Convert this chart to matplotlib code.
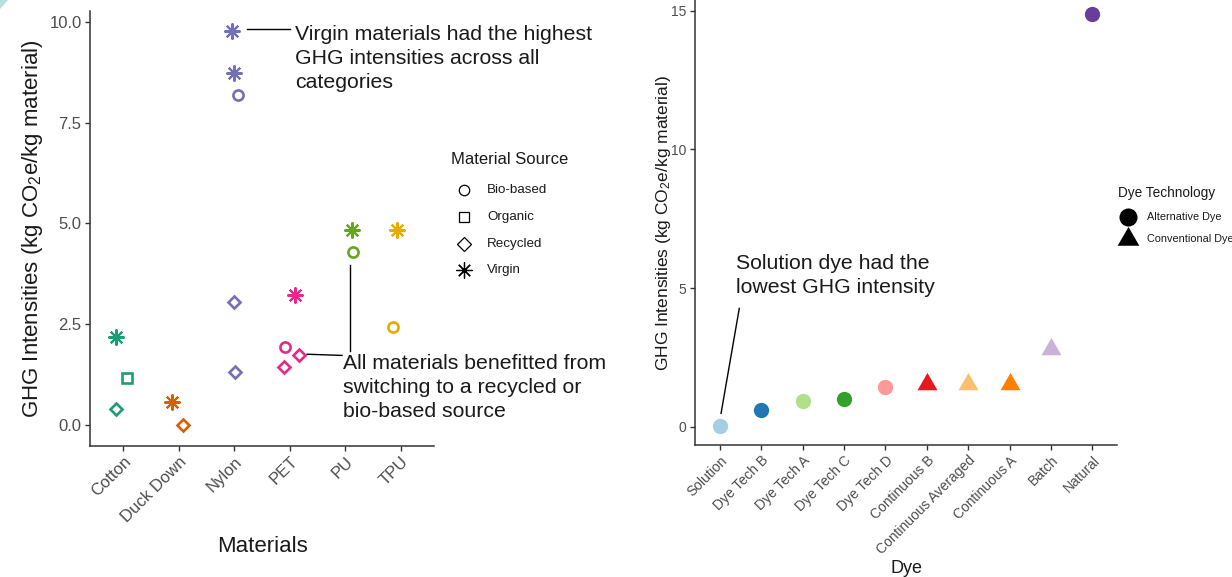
import matplotlib
matplotlib.use("Agg")
import matplotlib.pyplot as plt
from matplotlib.path import Path
from matplotlib.patches import Polygon

plt.rcParams["font.family"] = ["Liberation Sans", "DejaVu Sans"]
plt.rcParams["mathtext.default"] = "regular"

# --- materials panel data ---
materials = ["Cotton", "Duck Down", "Nylon", "PET", "PU", "TPU"]
material_colors = ["#1B9E77", "#D95F02", "#7570B3", "#E7298A", "#66A61E", "#E6AB02"]
sources = ["Bio-based", "Organic", "Recycled", "Virgin"]

pt_material = ["Cotton", "Cotton", "Cotton", "Duck Down", "Duck Down",
               "Nylon", "Nylon", "Nylon", "Nylon", "Nylon",
               "PET", "PET", "PET", "PET", "PU", "PU", "TPU", "TPU"]
pt_source = ["Virgin", "Organic", "Recycled", "Virgin", "Recycled",
             "Virgin", "Virgin", "Bio-based", "Recycled", "Recycled",
             "Virgin", "Bio-based", "Recycled", "Recycled",
             "Virgin", "Bio-based", "Virgin", "Bio-based"]
pt_ghg = [2.18, 1.17, 0.40, 0.57, 0.0,
          9.78, 8.74, 8.19, 3.05, 1.32,
          3.23, 1.93, 1.72, 1.43,
          4.83, 4.28, 4.84, 2.43]
pt_jitter = [-0.13, 0.07, -0.13, -0.12, 0.07,
             -0.05, 0.0, 0.06, 0.0, 0.01,
             0.10, -0.08, 0.16, -0.11,
             0.12, 0.14, -0.08, -0.15]

# --- dye panel data ---
dyes = ["Solution", "Dye Tech B", "Dye Tech A", "Dye Tech C", "Dye Tech D",
        "Continuous B", "Continuous Averaged", "Continuous A", "Batch", "Natural"]
dye_ghg = [0.04, 0.61, 0.95, 0.99, 1.44, 1.56, 1.56, 1.56, 2.82, 14.87]
dye_tech = ["Alternative Dye"] * 5 + ["Conventional Dye"] * 4 + ["Alternative Dye"]
dye_colors = ["#A6CEE3", "#1F78B4", "#B2DF8A", "#33A02C", "#FB9A99",
              "#E31A1C", "#FDBF6F", "#FF7F00", "#CAB2D6", "#6A3D9A"]

# equilateral triangle centred on its centroid (like R's pch 17)
tri = Path([(0, 1), (-0.866, -0.5), (0.866, -0.5), (0, 1)],
           [Path.MOVETO, Path.LINETO, Path.LINETO, Path.CLOSEPOLY])

source_style = {
    "Bio-based": dict(marker="o", ms=7.3, mew=1.9),
    "Organic": dict(marker="s", ms=6.5, mew=1.9),
    "Recycled": dict(marker="D", ms=6.4, mew=1.9),
    "Virgin": dict(marker=(8, 2, 0), ms=11.5, mew=1.5),
}
tech_style = {
    "Alternative Dye": dict(marker="o", ms=11),
    "Conventional Dye": dict(marker=tri, ms=16.6),
}

TICK_GREY = "#4D4D4D"
TEXT_DARK = "#1A1A1A"


def classic_axes(ax, tick_size):
    for side in ["top", "right"]:
        ax.spines[side].set_visible(False)
    for side in ["left", "bottom"]:
        ax.spines[side].set_color("#333333")
        ax.spines[side].set_linewidth(1.1)
    ax.tick_params(length=3.5, width=1.0, color="#333333",
                   labelcolor=TICK_GREY, labelsize=tick_size, pad=2.5)


fig = plt.figure(figsize=(12.32, 5.77), dpi=100)

# ---------------- materials ----------------
ax1 = fig.add_axes([0.0730, 0.2276, 0.2795, 0.7534])
classic_axes(ax1, 12)
for m, s, v, j in zip(pt_material, pt_source, pt_ghg, pt_jitter):
    i = materials.index(m)
    c = material_colors[i]
    ax1.plot(i + j, v, linestyle="none", mfc="none", mec=c,
             clip_on=False, **source_style[s])
ax1.set_xlim(-0.6, len(materials) - 0.4)
ax1.set_ylim(-0.52, 10.27)
ax1.set_xticks(range(len(materials)))
ax1.set_xticklabels(materials, rotation=45, ha="right", va="top",
                    rotation_mode="anchor")
ax1.set_yticks([0, 2.5, 5, 7.5, 10])
ax1.set_yticklabels(["0.0", "2.5", "5.0", "7.5", "10.0"])
ax1.set_xlabel("Materials", fontsize=16, labelpad=8, color=TEXT_DARK)
ax1.set_ylabel("GHG Intensities (kg CO$_2$e/kg material)", fontsize=16,
               labelpad=3, color=TEXT_DARK)

ax1.plot([2.22, 3.0], [9.82, 9.82], color="black", lw=1.0, clip_on=False)
ax1.text(3.09, 9.10, "Virgin materials had the highest\nGHG intensities across all\ncategories",
         fontsize=15.3, ha="left", va="center", linespacing=1.34, color=TEXT_DARK)
ax1.plot([4.08, 4.08], [3.96, 1.83], color="black", lw=1.0, clip_on=False)
ax1.plot([3.31, 3.94], [1.75, 1.72], color="black", lw=1.0, clip_on=False)
ax1.text(3.95, 0.92, "All materials benefitted from\nswitching to a recycled or\nbio-based source",
         fontsize=15.3, ha="left", va="center", linespacing=1.34, color=TEXT_DARK)

# ---------------- dyes ----------------
ax2 = fig.add_axes([0.5641, 0.2288, 0.3428, 0.7712])
classic_axes(ax2, 10)
for k, (d, v, t, c) in enumerate(zip(dyes, dye_ghg, dye_tech, dye_colors)):
    ax2.plot(k, v, linestyle="none", mfc=c, mec="none", clip_on=False,
             **tech_style[t])
ax2.set_xlim(-0.6, len(dyes) - 0.4)
ax2.set_ylim(-0.65, 15.38)
ax2.set_xticks(range(len(dyes)))
ax2.set_xticklabels(dyes, rotation=45, ha="right", va="top",
                    rotation_mode="anchor")
ax2.set_yticks([0, 5, 10, 15])
ax2.set_xlabel("Dye", fontsize=13, labelpad=2, color=TEXT_DARK)
ax2.set_ylabel("GHG Intensities (kg CO$_2$e/kg material)", fontsize=12.5,
               labelpad=-1, color=TEXT_DARK)

ax2.plot([0.47, 0.03], [4.27, 0.49], color="black", lw=1.0)
ax2.text(0.40, 5.46, "Solution dye had the\nlowest GHG intensity",
         fontsize=15.3, ha="left", va="center", linespacing=1.34, color=TEXT_DARK)

# ---------------- legends (pixel overlay) ----------------
lg = fig.add_axes([0, 0, 1, 1], zorder=-1)
lg.set_xlim(0, 1232)
lg.set_ylim(577, 0)
lg.axis("off")

lg.text(451, 160, "Material Source", fontsize=12, ha="left", va="center",
        color=TEXT_DARK)
leg_ms = {"Bio-based": 7.5, "Organic": 7.5, "Recycled": 7.4, "Virgin": 11.5}
for s, y in zip(sources, [190, 217, 244, 270]):
    st = dict(source_style[s])
    st["ms"] = leg_ms[s]
    st["mew"] = 0.9
    lg.plot(464, y, linestyle="none", mfc="none", mec="black", **st)
    lg.text(487, y, s, fontsize=9.6, ha="left", va="center", color=TEXT_DARK)

lg.text(1118, 193, "Dye Technology", fontsize=9.8, ha="left", va="center",
        color=TEXT_DARK)
for t, y in zip(["Alternative Dye", "Conventional Dye"], [217, 239]):
    st = dict(tech_style[t])
    st["ms"] = 13 if t == "Alternative Dye" else 18
    lg.plot(1128, y, linestyle="none", mfc="black", mec="none", **st)
    lg.text(1147, y, t, fontsize=7.8, ha="left", va="center", color=TEXT_DARK)

# small teal corner accent
fig.patches.append(Polygon([(0, 1), (8 / 1232, 1), (0, 1 - 9 / 577)],
                           closed=True, transform=fig.transFigure,
                           facecolor="#B5E0DE", edgecolor="none"))

fig.savefig("out.png", dpi=100)
